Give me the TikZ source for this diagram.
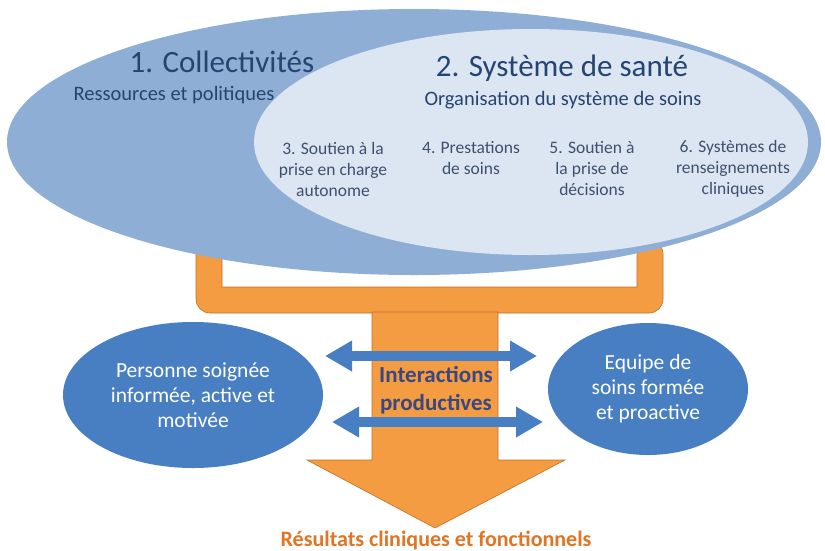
\documentclass[tikz,border=0pt]{standalone}
\usepackage{fontspec}
\setmainfont{Carlito}
\usetikzlibrary{arrows.meta,shapes.geometric}
\definecolor{outerblue}{RGB}{143,174,214}
\definecolor{innerblue}{RGB}{220,230,242}
\definecolor{midblue}{RGB}{72,126,194}
\definecolor{orangef}{RGB}{244,156,66}
\definecolor{oranged}{RGB}{196,110,40}
\definecolor{titleblue}{RGB}{38,68,112}
\definecolor{subtext}{RGB}{62,80,110}
\definecolor{interblue}{RGB}{58,72,130}
\definecolor{resorange}{RGB}{226,116,36}
\begin{document}
\begin{tikzpicture}[x=1pt,y=-1pt,
  title/.style={text=titleblue,font=\fontsize{31}{33}\selectfont,inner sep=0pt,anchor=base},
  subtitle/.style={text=titleblue,font=\fontsize{20.5}{22}\selectfont,inner sep=0pt,anchor=base},
  item/.style={text=subtext,font=\fontsize{17.5}{21}\selectfont,align=center,inner sep=0pt},
  actor/.style={ellipse,fill=midblue,text=white,font=\fontsize{21.5}{25}\selectfont,align=center},
  dbl/.style={{Triangle[width=29pt,length=27pt]}-{Triangle[width=29pt,length=27pt]},line width=10pt,midblue},
]
\useasboundingbox (0,0) rectangle (825,550);
\fill[white] (0,0) rectangle (825,550);
% orange frame
\fill[orangef,draw=oranged,line width=0.6pt,rounded corners=14pt]
  (196,240) -- (196,313) -- (663,313) -- (663,240) -- (637,240) [sharp corners] -- (637,287) -- (222,287) -- (222,240) -- cycle;
% big arrow
\fill[orangef,draw=oranged,line width=0.6pt]
  (372,312) -- (498,312) -- (498,460) -- (565,460) -- (435,528) -- (307,460) -- (372,460) -- cycle;
% ellipses
\fill[outerblue] (414,142) ellipse [x radius=407,y radius=133];
\fill[innerblue] (531,142) ellipse [x radius=277,y radius=113];
% texts top
\node[title] (t1) at (222,72) {1. Collectivités};
\node[subtitle] (s1) at (174,100) {Ressources et politiques};
\node[title] (t2) at (562,76) {2. Système de santé};
\node[subtitle] (s2) at (563,105) {Organisation du système de soins};
\node[item] (i3) at (333,169) {3. Soutien à la\\prise en charge\\autonome};
\node[item] (i4) at (471,158.5) {4. Prestations\\de soins};
\node[item] (i5) at (592,169) {5. Soutien à\\la prise de\\décisions};
\node[item] (i6) at (733,169) {6. Systèmes de\\renseignements\\cliniques};
% actors
\node[actor,minimum width=260pt,minimum height=146pt] (p) at (193,395) {Personne soignée\\informée, active et\\motivée};
\node[actor,minimum width=200pt,minimum height=132pt] (e) at (648,389) {Equipe de\\soins formée\\et proactive};
% arrows
\coordinate (a1l) at (325,356);
\coordinate (a1r) at (537,356);
\coordinate (a2l) at (332,422);
\coordinate (a2r) at (543,422);
\draw[dbl] (a1l) -- (a1r);
\draw[dbl] (a2l) -- (a2r);
\node[text=interblue,font=\bfseries\fontsize{23}{28}\selectfont,align=center] (ip) at (436,390) {Interactions\\productives};
\node[text=resorange,font=\bfseries\fontsize{22}{24}\selectfont] (res) at (436,540) {Résultats cliniques et fonctionnels};
\end{tikzpicture}
\end{document}
